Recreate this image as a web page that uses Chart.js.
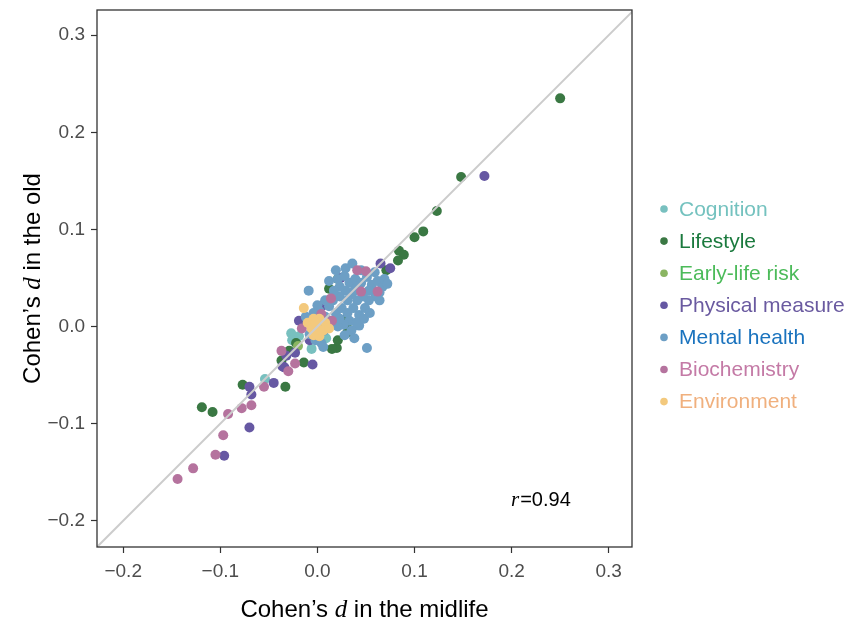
<!DOCTYPE html>
<html><head><meta charset="utf-8">
<script src="https://cdn.jsdelivr.net/npm/chart.js@4"></script>
<style>html,body{margin:0;padding:0;background:#fff}</style>
</head><body>
<canvas id="c" width="856" height="627" style="width:856px;height:627px;display:block"></canvas>
<script>
const categories = ["Cognition","Lifestyle","Early-life risk","Physical measure","Mental health","Biochemistry","Environment"];
const dotColors = ["#78C0BF","#3A7843","#8AB562","#6658A3","#6D9FC5","#B5739E","#F3C97D"];
const textColors = ["#74C2BF","#1B7A3E","#4CBB5A","#6A5AA0","#1A73BE","#C47AA6","#F0B07E"];
const xTicks = [-0.2,-0.1,0.0,0.1,0.2,0.3];
const yTicks = [-0.2,-0.1,0.0,0.1,0.2,0.3];
const refLine = [[-0.3,-0.3],[0.4,0.4]];
const rLabel = "0.94";

const cognition = [[-0.054,-0.054],[-0.027,-0.007],[-0.006,-0.023],[0.009,-0.012],[-0.019,-0.010],[-0.026,-0.014]];
const lifestyle = [[0.250,0.235],[0.148,0.154],[0.123,0.119],[0.109,0.098],[0.100,0.092],[0.084,0.078],[0.089,0.074],[0.083,0.068],[0.071,0.058],[0.012,0.039],[0.021,0.049],[0.031,-0.006],[0.020,-0.022],[0.021,-0.014],[0.015,-0.023],[-0.014,-0.037],[-0.037,-0.035],[-0.022,-0.017],[-0.033,-0.062],[-0.077,-0.060],[-0.119,-0.083],[-0.108,-0.088],[0.031,0.004],[-0.029,-0.025],[0.030,0.008]];
const earlyLife = [[0.010,0.005],[-0.020,-0.020]];
const physical = [[0.172,0.155],[0.075,0.060],[0.065,0.065],[0.024,0.050],[0.006,0.022],[-0.019,0.006],[-0.005,-0.039],[-0.034,-0.042],[-0.032,-0.030],[-0.070,-0.104],[-0.096,-0.133],[-0.070,-0.062],[-0.068,-0.070],[-0.045,-0.058],[-0.036,-0.041],[-0.023,-0.027],[-0.008,-0.014],[0.012,0.027]];
const mental = [[0.012,0.047],[0.021,0.049],[0.028,0.052],[0.033,0.045],[0.039,0.049],[0.045,0.045],[0.051,0.051],[0.056,0.043],[0.062,0.047],[0.067,0.041],[0.060,0.031],[0.053,0.027],[0.047,0.031],[0.041,0.027],[0.035,0.033],[0.029,0.037],[0.023,0.031],[0.016,0.027],[0.012,0.021],[0.019,0.014],[0.025,0.019],[0.031,0.014],[0.037,0.019],[0.043,0.012],[0.049,0.019],[0.033,0.006],[0.027,0.002],[0.021,0.000],[0.014,0.006],[0.008,0.010],[0.002,0.016],[-0.004,0.014],[0.008,0.027],[0.023,0.041],[0.038,0.037],[0.045,0.058],[0.059,0.056],[0.069,0.049],[0.064,0.035],[0.043,0.001],[0.035,-0.004],[0.028,-0.009],[0.007,-0.004],[-0.006,0.006],[-0.012,0.010],[0.000,0.022],[0.017,0.037],[0.031,0.027],[0.041,0.041],[0.053,0.037],[0.072,0.044],[0.019,0.058],[0.029,0.060],[0.048,0.008],[0.038,-0.012],[0.023,0.008],[0.012,0.001],[0.006,0.004],[-0.002,-0.014],[-0.008,-0.008],[0.004,-0.017],[0.036,0.065],[-0.009,0.037],[0.051,-0.022],[0.006,-0.021],[0.064,0.027],[0.054,0.014],[0.040,0.004]];
const biochem = [[-0.144,-0.157],[-0.128,-0.146],[-0.105,-0.132],[-0.097,-0.112],[-0.092,-0.090],[-0.078,-0.084],[-0.068,-0.081],[-0.055,-0.062],[-0.030,-0.046],[-0.023,-0.038],[-0.037,-0.025],[0.041,0.058],[0.050,0.057],[0.045,0.036],[0.062,0.036],[0.014,0.029],[0.004,0.013],[-0.016,-0.002],[0.015,0.006]];
const environment = [[-0.014,0.019],[-0.010,0.004],[-0.004,0.008],[0.002,0.008],[0.008,0.004],[-0.006,-0.002],[0.000,-0.002],[0.006,-0.004],[0.012,-0.002],[-0.004,-0.009],[0.002,-0.010],[-0.002,0.004]];

const seriesData = [cognition, lifestyle, earlyLife, physical, mental, biochem, environment];
const FONT = "'Liberation Sans', Arial, Helvetica, sans-serif";
const toPts = a => a.map(p => ({x:p[0], y:p[1]}));
const fmt = v => { const s = Number(v).toFixed(1); return s.replace('-', '\u2212'); };

const datasets = seriesData.map((d,i) => ({
  type:'scatter', label:categories[i], data:toPts(d),
  backgroundColor:dotColors[i], borderWidth:0, pointRadius:5, pointHoverRadius:5,
  order: 10 - i
}));
datasets.push({type:'line', label:'ref', data:toPts(refLine), borderColor:'#CCCCCC', borderWidth:2,
  pointRadius:0, fill:false, order:0});

function drawMixed(ctx, parts, cx, cy){
  let total = 0;
  parts.forEach(p => { ctx.font = p.font; p.w = ctx.measureText(p.t).width; total += p.w; });
  let x = cx - total/2;
  parts.forEach(p => { ctx.font = p.font; ctx.fillText(p.t, x, cy); x += p.w; });
}

const deco = {
  id:'deco',
  afterDatasetsDraw(chart){
    const {ctx, chartArea:a} = chart;
    ctx.save();
    ctx.strokeStyle = '#333333'; ctx.lineWidth = 1.3;
    ctx.strokeRect(a.left, a.top, a.right-a.left, a.bottom-a.top);
    ctx.restore();
  },
  afterDraw(chart){
    const {ctx, chartArea:a} = chart;
    ctx.save();
    ctx.fillStyle = '#000'; ctx.textBaseline = 'alphabetic'; ctx.textAlign = 'left';
    drawMixed(ctx, [
      {t:"Cohen\u2019s ", font:"24px "+FONT},
      {t:"d", font:"italic 25px 'Liberation Serif', 'Times New Roman', serif"},
      {t:" in the midlife", font:"24px "+FONT}
    ], (a.left+a.right)/2, 617);
    ctx.save();
    ctx.translate(40, (a.top+a.bottom)/2);
    ctx.rotate(-Math.PI/2);
    drawMixed(ctx, [
      {t:"Cohen\u2019s ", font:"24px "+FONT},
      {t:"d", font:"italic 25px 'Liberation Serif', 'Times New Roman', serif"},
      {t:" in the old", font:"24px "+FONT}
    ], 0, 0);
    ctx.restore();
    ctx.font = "italic 21px 'Liberation Serif', 'Times New Roman', serif";
    ctx.fillText("r", 511, 506);
    const rw = ctx.measureText("r").width;
    ctx.font = "20px "+FONT;
    ctx.fillText("="+rLabel, 511+rw+1, 506);
    ctx.textBaseline = 'middle';
    categories.forEach((c,i) => {
      const y = 209 + i*32.1;
      ctx.beginPath(); ctx.fillStyle = dotColors[i];
      ctx.arc(664, y, 3.8, 0, Math.PI*2); ctx.fill();
      ctx.fillStyle = textColors[i]; ctx.font = "21px "+FONT;
      ctx.fillText(c, 679, y+1);
    });
    ctx.restore();
  }
};

new Chart(document.getElementById('c'), {
  data:{datasets},
  options:{
    responsive:false, animation:false, devicePixelRatio:1,
    layout:{padding:{left:0, top:10, right:224, bottom:0}},
    plugins:{legend:{display:false}, tooltip:{enabled:false}},
    scales:{
      x:{type:'linear', position:'bottom', min:-0.227, max:0.324,
        afterFit(s){ s.height = 80; s.paddingLeft = 0; s.paddingRight = 0; },
        afterBuildTicks(s){ s.ticks = xTicks.map(v => ({value:v})); },
        grid:{drawOnChartArea:false, tickLength:6, tickColor:'#333333', tickWidth:1.2},
        border:{display:false},
        ticks:{color:'#4D4D4D', font:{family:FONT, size:19}, padding:7, callback:v => fmt(v), maxRotation:0}
      },
      y:{type:'linear', position:'left', min:-0.227, max:0.326,
        afterFit(s){ s.width = 97; s.paddingTop = 0; s.paddingBottom = 0; },
        afterBuildTicks(s){ s.ticks = yTicks.map(v => ({value:v})); },
        grid:{drawOnChartArea:false, tickLength:6, tickColor:'#333333', tickWidth:1.2},
        border:{display:false},
        ticks:{color:'#4D4D4D', font:{family:FONT, size:19}, padding:6, callback:v => fmt(v)}
      }
    }
  },
  plugins:[deco]
});
</script>
</body></html>
